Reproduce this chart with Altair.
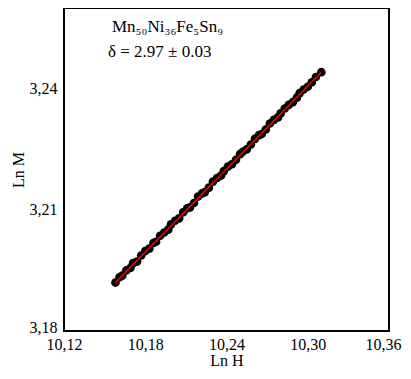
import altair as alt
import pandas as pd

ln_h = [10.158, 10.161, 10.163, 10.166, 10.169, 10.171, 10.174, 10.177, 10.180, 10.183,
        10.186, 10.188, 10.191, 10.194, 10.197, 10.199, 10.202, 10.205, 10.208, 10.211,
        10.213, 10.216, 10.219, 10.222, 10.224, 10.227, 10.230, 10.233, 10.236, 10.238,
        10.241, 10.244, 10.247, 10.250, 10.252, 10.255, 10.258, 10.261, 10.264, 10.266,
        10.269, 10.272, 10.275, 10.278, 10.280, 10.283, 10.286, 10.289, 10.292, 10.294,
        10.297, 10.300, 10.303, 10.306, 10.310]
ln_m = [3.1920, 3.1933, 3.1937, 3.1950, 3.1956, 3.1968, 3.1972, 3.1987, 3.1998, 3.2004,
        3.2018, 3.2021, 3.2036, 3.2044, 3.2051, 3.2064, 3.2073, 3.2079, 3.2094, 3.2104,
        3.2106, 3.2117, 3.2133, 3.2141, 3.2144, 3.2155, 3.2170, 3.2179, 3.2185, 3.2196,
        3.2207, 3.2213, 3.2224, 3.2238, 3.2244, 3.2250, 3.2262, 3.2276, 3.2285, 3.2288,
        3.2299, 3.2314, 3.2323, 3.2329, 3.2339, 3.2351, 3.2360, 3.2367, 3.2378, 3.2389,
        3.2398, 3.2405, 3.2416, 3.2429, 3.2441]

fit_h = [10.1577, 10.3098]
fit_m = [3.1919, 3.2440]

x_ticks = [10.12, 10.18, 10.24, 10.30, 10.36]
y_ticks = [3.18, 3.21, 3.24]

label1 = "Mn₅₀Ni₃₆Fe₅Sn₉"
label2 = "δ = 2.97 ± 0.03"

FONT = "Liberation Serif"

pts = pd.DataFrame({"h": ln_h, "m": ln_m})
fit = pd.DataFrame({"h": fit_h, "m": fit_m})

xscale = alt.Scale(domain=[10.12, 10.36], nice=False, zero=False)
yscale = alt.Scale(domain=[3.18, 3.26], nice=False, zero=False)

xaxis = alt.Axis(values=x_ticks, title="Ln H", grid=False, ticks=False, domain=False,
                 labelExpr="replace(format(datum.value, '.2f'), '.', ',')",
                 labelFont=FONT, labelFontSize=16, labelColor="black", labelPadding=5,
                 labelOffset={"condition": {"test": "datum.value > 10.35", "value": -6}, "value": 0},
                 titleFont=FONT, titleFontSize=16, titleFontWeight="normal", titleColor="black",
                 titlePadding=0, labelFlush=False)
yaxis = alt.Axis(values=y_ticks, title="Ln M", grid=False, ticks=False, domain=False,
                 labelExpr="replace(format(datum.value, '.2f'), '.', ',')",
                 labelFont=FONT, labelFontSize=16, labelColor="black", labelPadding=7,
                 labelOffset={"condition": {"test": "datum.value < 3.185", "value": -4}, "value": 0},
                 titleFont=FONT, titleFontSize=16, titleFontWeight="normal", titleColor="black",
                 titlePadding=3, labelFlush=False)

points = alt.Chart(pts).mark_circle(size=75, color="black", opacity=1).encode(
    x=alt.X("h:Q", scale=xscale, axis=xaxis),
    y=alt.Y("m:Q", scale=yscale, axis=yaxis),
)
line = alt.Chart(fit).mark_line(color="#ff0000", strokeWidth=1.5).encode(
    x=alt.X("h:Q", scale=xscale),
    y=alt.Y("m:Q", scale=yscale),
)
t1 = alt.Chart(pd.DataFrame({"t": [label1]})).mark_text(
    font=FONT, fontSize=17, align="left", baseline="alphabetic", color="black"
).encode(text="t:N", x=alt.value(48), y=alt.value(24))
t2 = alt.Chart(pd.DataFrame({"t": [label2]})).mark_text(
    font=FONT, fontSize=17, align="left", baseline="alphabetic", color="black"
).encode(text="t:N", x=alt.value(44), y=alt.value(49))

chart = alt.layer(points, line, t1, t2).properties(
    width=325, height=323,
    autosize=alt.AutoSizeParams(type="none"),
    padding={"left": 56, "top": 0, "right": 14, "bottom": 40},
).configure_view(stroke="black", strokeWidth=2)

chart.save("out.html", embed_options={"renderer": "svg", "actions": False})
